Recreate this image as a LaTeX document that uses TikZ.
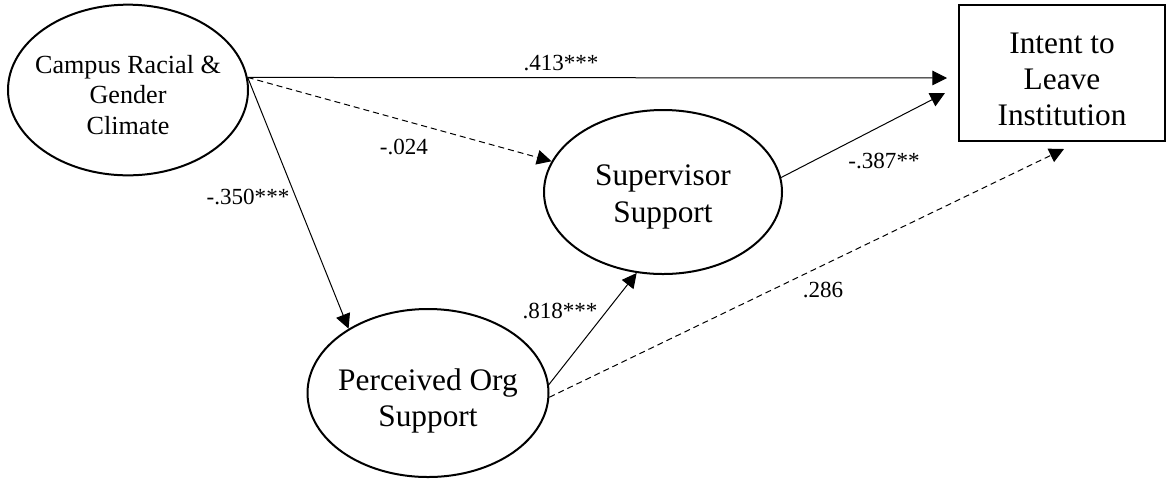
\documentclass[tikz,border=0pt]{standalone}
\usepackage{fontspec}
\setmainfont{Liberation Serif}
\usetikzlibrary{shapes.geometric,arrows.meta}
\begin{document}
\begin{tikzpicture}[x=0.75pt,y=-0.75pt,
  latent/.style={ellipse,draw,line width=1.5pt,inner sep=0pt},
  observed/.style={rectangle,draw,line width=1.5pt,minimum width=154.5pt,
    minimum height=102pt},
  bigtext/.style={align=center,inner sep=0pt,font=\fontsize{23.5}{27}\selectfont},
  smalltext/.style={align=center,inner sep=0pt,font=\fontsize{19.6}{23.2}\selectfont},
  link/.style={line width=0.75pt,-{Triangle[length=11pt,width=11pt]}},
  nslink/.style={link,dash pattern=on 4.5pt off 3pt},
  coef/.style={anchor=base,inner sep=0pt,font=\fontsize{17.3}{20}\selectfont}
]
\useasboundingbox (0,0) rectangle (1167,480);

% constructs
\node[latent,minimum width=180pt,minimum height=128pt] (campus) at (128,90) {};
\node[smalltext] (campustext) at (128,95) {Campus Racial \&\\Gender\\Climate};

\node[latent,minimum width=178.5pt,minimum height=123pt] (sup) at (663,192) {};
\node[bigtext,font=\fontsize{23.5}{28}\selectfont] (suptext) at (663,197) {Supervisor\\Support};

\node[latent,minimum width=180.75pt,minimum height=126pt] (pos) at (428,393) {};
\node[bigtext] (postext) at (428,401) {Perceived Org\\Support};

\node[observed] (intent) at (1062,73) {};
\node[bigtext] (intenttext) at (1062,79) {Intent to\\Leave\\Institution};

% arrow ends stopping short of the outcome box
\coordinate (inA) at (947,78);
\coordinate (inB) at (945,93);
\coordinate (inC) at (1064,149);

% paths
\draw[link]   (campus.6) -- (inA);
\draw[nslink] (campus.6) -- (sup);
\draw[link]   (campus.6) -- (pos.141);
\draw[link]   (pos.4)    -- (sup.252);
\draw[link]   (sup.7)    -- (inB);
\draw[nslink] (pos.-2)   -- (inC);

% path coefficients
\node[coef] (c1) at (561,70)  {.413***};
\node[coef] (c2) at (404,154) {-.024};
\node[coef] (c3) at (248,204) {-.350***};
\node[coef] (c4) at (560,318) {.818***};
\node[coef] (c5) at (884,168) {-.387**};
\node[coef] (c6) at (823,297) {.286};
\end{tikzpicture}
\end{document}
